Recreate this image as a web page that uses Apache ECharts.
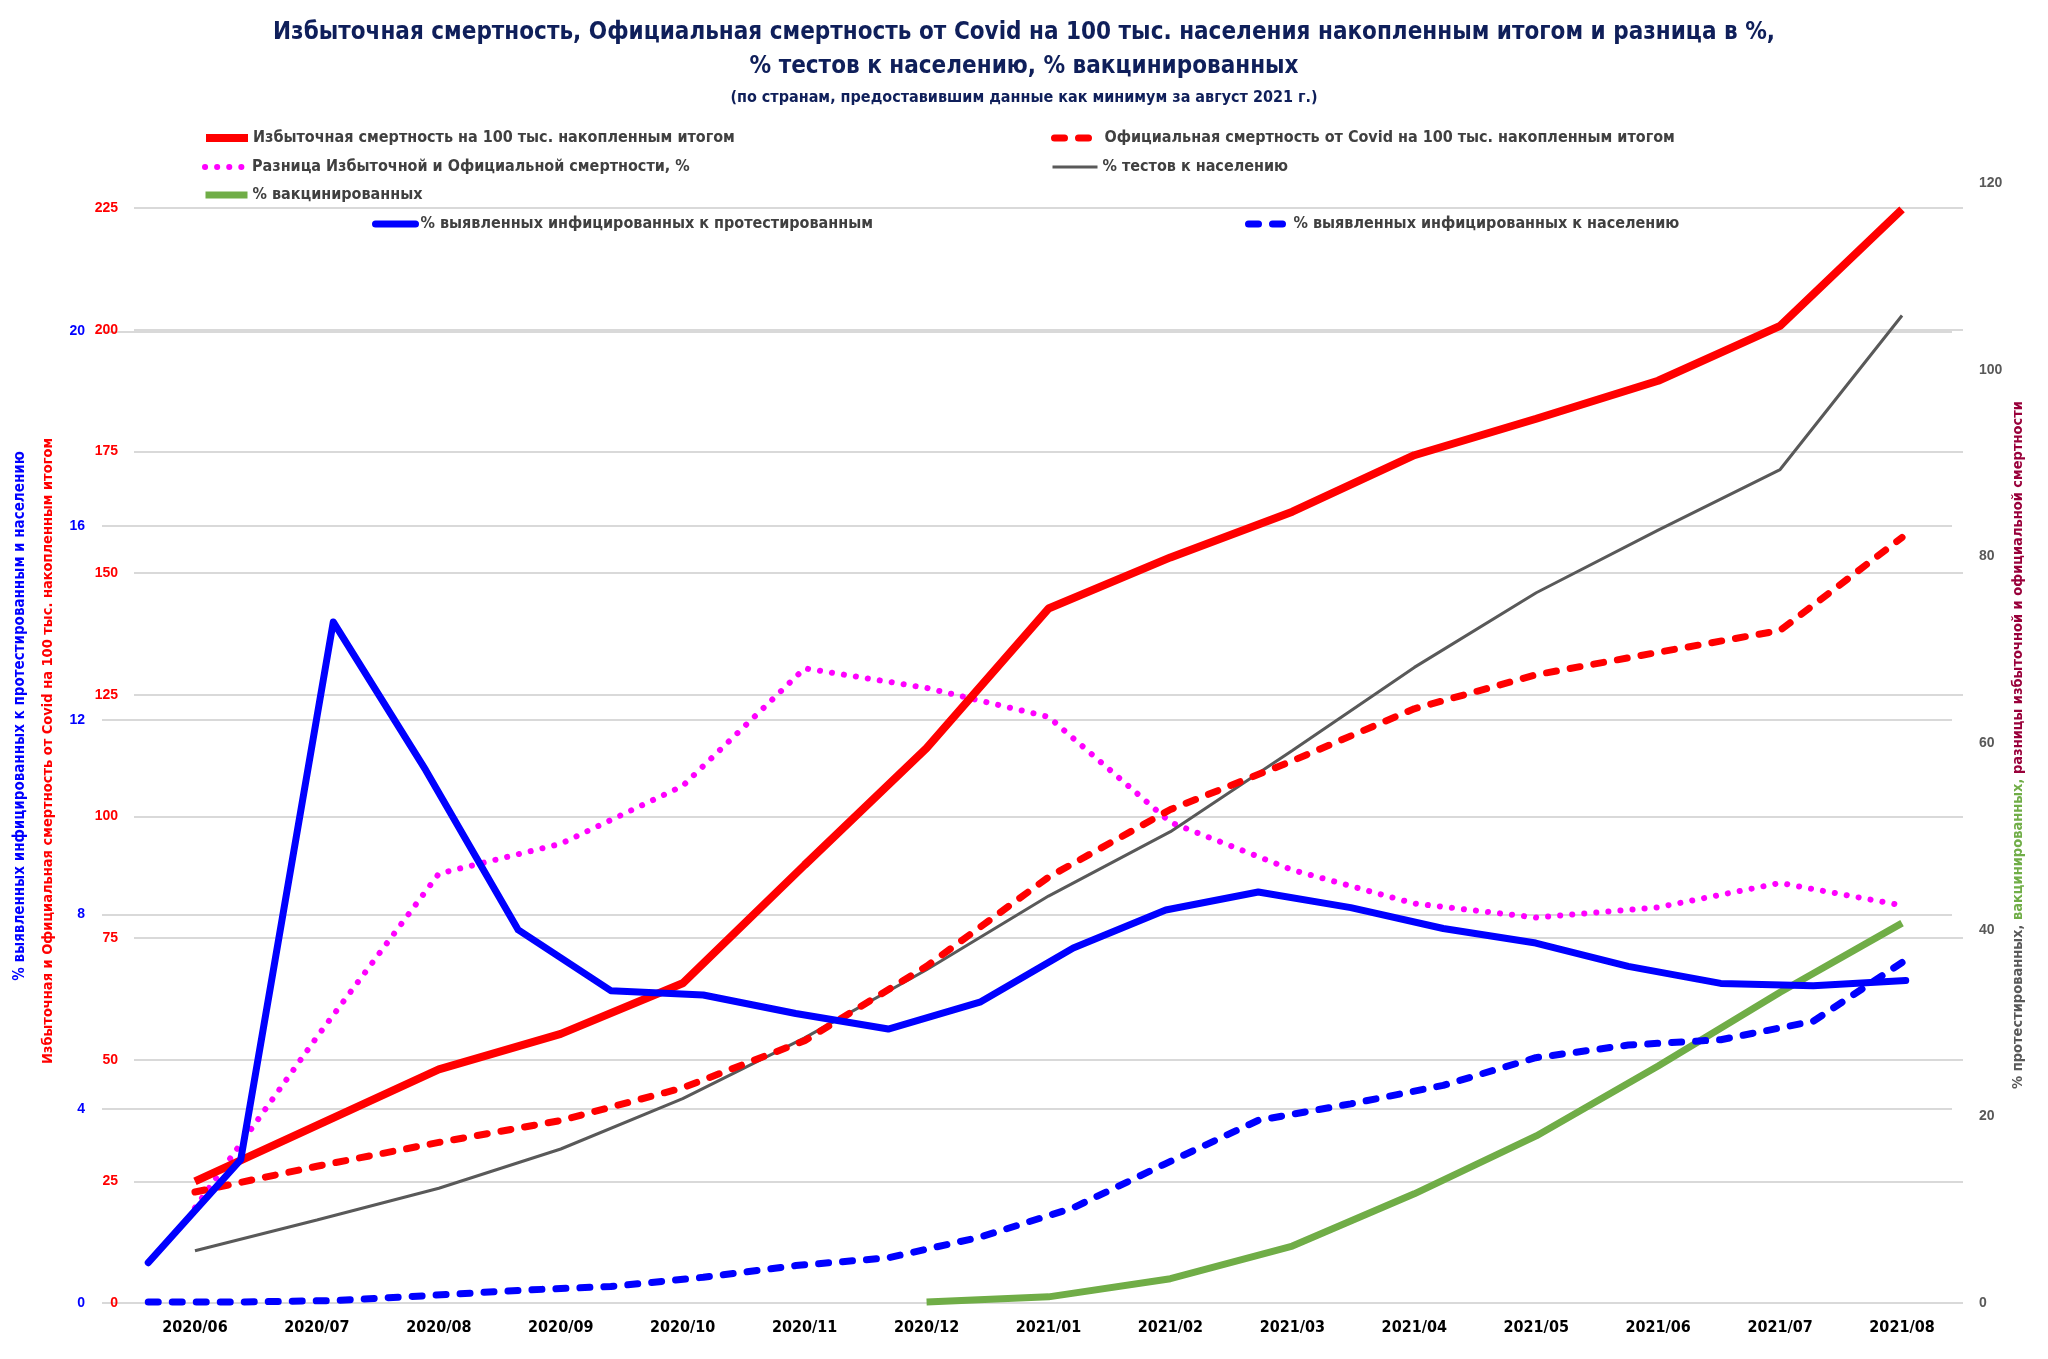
<!DOCTYPE html>
<html>
<head>
<meta charset="utf-8">
<script src="https://cdn.jsdelivr.net/npm/echarts@6/dist/echarts.min.js"></script>
<style>
html,body{margin:0;padding:0;background:#fff;}
#chart{width:2048px;height:1359px;}
</style>
</head>
<body>
<div id="chart"></div>
<script>
// ---- data ----
var months = ['2020/06','2020/07','2020/08','2020/09','2020/10','2020/11','2020/12','2021/01','2021/02','2021/03','2021/04','2021/05','2021/06','2021/07','2021/08'];
var excessDeaths = [25, 36.5, 48, 55.3, 65.7, 90, 114, 142.7, 153.2, 162.6, 174.2, 181.7, 189.5, 200.8, 224.7];
var officialDeaths = [22.8, 28.1, 33, 37.5, 44.2, 53.9, 69.2, 87.5, 101.4, 111.4, 122.1, 129.1, 133.7, 138.2, 157.3];
var diffPct = [10.2, 28.5, 46, 49.2, 55.4, 68, 65.9, 62.8, 51.5, 46.4, 42.8, 41.3, 42.4, 45, 42.6];
var testsPct = [5.6, 8.9, 12.3, 16.5, 21.9, 28.4, 35.7, 43.6, 50.5, 59.2, 68.1, 76.1, 82.8, 89.3, 105.8];
var vaccinatedPct = [null, null, null, null, null, null, 0.1, 0.66, 2.6, 6.1, 11.7, 17.9, 25.4, 33.3, 40.7];
var bluePoints = ['1','2','3','4','5','6','7','8','9','10','11','12','13','14','15','16','17','18','19','20'];
var positivePerTested = [0.83, 2.95, 14.02, 10.97, 7.68, 6.43, 6.34, 5.96, 5.64, 6.20, 7.31, 8.09, 8.46, 8.14, 7.71, 7.41, 6.93, 6.58, 6.53, 6.64];
var positivePerPopulation = [0.02, 0.02, 0.05, 0.15, 0.26, 0.34, 0.53, 0.77, 0.93, 1.36, 1.96, 2.87, 3.76, 4.10, 4.48, 5.05, 5.31, 5.42, 5.80, 7.06];
var redTicks = {min: 0, max: 225, interval: 25};
var blueTicks = {min: 0, max: 20, interval: 4};
var rightTicks = {min: 0, max: 120, interval: 20};

var names = {
  excess: 'Избыточная смертность на 100 тыс. накопленным итогом',
  official: 'Официальная смертность от Covid на 100 тыс. накопленным итогом',
  diff: 'Разница Избыточной и Официальной смертности, %',
  tests: '% тестов к населению',
  vacc: '% вакцинированных',
  pTested: '% выявленных инфицированных к протестированным',
  pPop: '% выявленных инфицированных к населению'
};

var NARROW = '"Liberation Sans Narrow","Arial Narrow","DejaVu Sans Condensed","Roboto Condensed","Liberation Sans",sans-serif';
var REG = '"Liberation Sans",Arial,sans-serif';
var gridColor = '#d9d9d9';

var chart = echarts.init(document.getElementById('chart'), null, {renderer: 'canvas'});

function legendAt(name, left, top, w) {
  return {
    data: [name], left: left, top: top, orient: 'horizontal',
    itemWidth: w, itemHeight: 12, padding: 0, selectedMode: false,
    itemStyle: {opacity: 0},
    lineStyle: {width: 'inherit'},
    textStyle: {fontFamily: NARROW, fontSize: 16, fontWeight: 'bold', color: '#404040'}
  };
}

var option = {
  animation: false,
  backgroundColor: '#ffffff',
  title: [
    {text: 'Избыточная смертность, Официальная смертность от Covid на 100 тыс. населения накопленным итогом и разница в %,', left: 'center', top: 16,
     textStyle: {fontFamily: NARROW, fontSize: 24, fontWeight: 'bold', color: '#0f1f5a'}},
    {text: '% тестов к населению, % вакцинированных', left: 'center', top: 50,
     textStyle: {fontFamily: NARROW, fontSize: 24, fontWeight: 'bold', color: '#0f1f5a'}},
    {text: '(по странам, предоставившим данные как минимум за август 2021 г.)', left: 'center', top: 85,
     textStyle: {fontFamily: NARROW, fontSize: 16, fontWeight: 'bold', color: '#0f1f5a'}}
  ],
  legend: [
    legendAt(names.excess, 202, 130, 42),
    legendAt(names.official, 1051, 130, 45),
    legendAt(names.diff, 202, 159, 42),
    legendAt(names.tests, 1051, 159, 45),
    legendAt(names.vacc, 202, 187, 42),
    legendAt(names.pTested, 372, 216, 40),
    legendAt(names.pPop, 1245, 216, 40)
  ],
  grid: [
    {left: 134, right: 85, top: 208, bottom: 56},
    {left: 102, right: 96, top: 331.5, bottom: 56},
    {left: 134, right: 85, top: 183, bottom: 56}
  ],
  xAxis: [
    {type: 'category', gridIndex: 0, data: months, boundaryGap: true,
     axisLine: {show: false}, axisTick: {show: false},
     axisLabel: {margin: 17, fontFamily: NARROW, fontSize: 16, fontWeight: 'bold', color: '#000'}},
    {type: 'category', gridIndex: 1, data: bluePoints, boundaryGap: true, show: false},
    {type: 'category', gridIndex: 2, data: months, boundaryGap: true, show: false}
  ],
  yAxis: [
    {type: 'value', gridIndex: 0, position: 'left', min: redTicks.min, max: redTicks.max, interval: redTicks.interval,
     axisLine: {show: false}, axisTick: {show: false},
     splitLine: {lineStyle: {color: gridColor, width: 2}},
     axisLabel: {margin: 16, fontFamily: REG, fontSize: 14, fontWeight: 'bold', color: '#ff0000'}},
    {type: 'value', gridIndex: 1, position: 'left', min: blueTicks.min, max: blueTicks.max, interval: blueTicks.interval,
     axisLine: {show: false}, axisTick: {show: false},
     splitLine: {lineStyle: {color: gridColor, width: 2}},
     axisLabel: {margin: 17, fontFamily: REG, fontSize: 14, fontWeight: 'bold', color: '#0000ff'}},
    {type: 'value', gridIndex: 2, position: 'right', min: rightTicks.min, max: rightTicks.max, interval: rightTicks.interval,
     axisLine: {show: false}, axisTick: {show: false}, splitLine: {show: false},
     axisLabel: {margin: 16, fontFamily: REG, fontSize: 14, fontWeight: 'bold', color: '#595959'}}
  ],
  graphic: [
    {type: 'text', x: 20, y: 716, rotation: Math.PI / 2, z: 10,
     style: {text: '% выявленных инфицированных к протестированным и населению', fill: '#0000ff',
       font: 'bold 15px ' + NARROW, textAlign: 'center', textVerticalAlign: 'middle'}},
    {type: 'text', x: 48, y: 751, rotation: Math.PI / 2, z: 10,
     style: {text: 'Избыточная и Официальная смертность от Covid на 100 тыс. накопленным итогом', fill: '#ff0000',
       font: 'bold 14.5px ' + NARROW, textAlign: 'center', textVerticalAlign: 'middle'}},
    {type: 'text', x: 2018, y: 745, rotation: Math.PI / 2, z: 10,
     style: {text: '{g|% протестированных, }{v|вакцинированных, }{r|разницы избыточной и официальной смертности}',
       textAlign: 'center', textVerticalAlign: 'middle', font: 'bold 14.5px ' + NARROW,
       rich: {
         g: {fill: '#595959', font: 'bold 14.5px ' + NARROW},
         v: {fill: '#70ad47', font: 'bold 14.5px ' + NARROW},
         r: {fill: '#99003a', font: 'bold 14.5px ' + NARROW}
       }}}
  ],
  series: [
    {name: names.diff, type: 'line', xAxisIndex: 2, yAxisIndex: 2, data: diffPct, symbol: 'none', z: 3,
     lineStyle: {color: '#ff00ff', width: 6, type: [0.1, 12], cap: 'round'}, itemStyle: {color: '#ff00ff'}},
    {name: names.tests, type: 'line', xAxisIndex: 2, yAxisIndex: 2, data: testsPct, symbol: 'none', z: 3,
     lineStyle: {color: '#595959', width: 3}, itemStyle: {color: '#595959'}},
    {name: names.vacc, type: 'line', xAxisIndex: 2, yAxisIndex: 2, data: vaccinatedPct, symbol: 'none', z: 3,
     lineStyle: {color: '#70ad47', width: 7}, itemStyle: {color: '#70ad47'}},
    {name: names.official, type: 'line', xAxisIndex: 0, yAxisIndex: 0, data: officialDeaths, symbol: 'none', z: 4,
     lineStyle: {color: '#ff0000', width: 7, type: [10, 14], cap: 'round'}, itemStyle: {color: '#ff0000'}},
    {name: names.excess, type: 'line', xAxisIndex: 0, yAxisIndex: 0, data: excessDeaths, symbol: 'none', z: 4,
     lineStyle: {color: '#ff0000', width: 8}, itemStyle: {color: '#ff0000'}},
    {name: names.pPop, type: 'line', xAxisIndex: 1, yAxisIndex: 1, data: positivePerPopulation, symbol: 'none', z: 5,
     lineStyle: {color: '#0000ff', width: 7, type: [10, 14], cap: 'round'}, itemStyle: {color: '#0000ff'}},
    {name: names.pTested, type: 'line', xAxisIndex: 1, yAxisIndex: 1, data: positivePerTested, symbol: 'none', z: 5,
     lineStyle: {color: '#0000ff', width: 7, cap: 'round', join: 'round'}, itemStyle: {color: '#0000ff'}}
  ]
};
chart.setOption(option);
</script>
</body>
</html>
